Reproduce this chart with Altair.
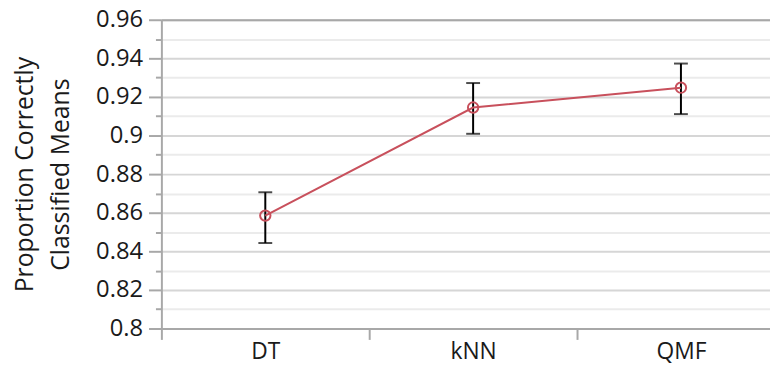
import altair as alt
import pandas as pd

models = ["DT", "kNN", "QMF"]
means = [0.8585, 0.9145, 0.9248]
lows = [0.8443, 0.9009, 0.9111]
highs = [0.8706, 0.9272, 0.9373]

major_ticks = [0.80, 0.82, 0.84, 0.86, 0.88, 0.90, 0.92, 0.94, 0.96]
minor_ticks = [0.81, 0.83, 0.85, 0.87, 0.89, 0.91, 0.93, 0.95]

df = pd.DataFrame({"model": models, "mean": means, "low": lows, "high": highs})

FONT = "Open Sans"
GRAY = "#a8a8a8"
RED = "#c8505c"
TXT = "#1a1a1a"

x_scale = alt.Scale(domain=models, range=[0, 630], paddingInner=0, paddingOuter=0)
y_scale = alt.Scale(domain=[0.8, 0.96], nice=False, zero=False)

x_axis = alt.Axis(
    orient="bottom",
    title=None,
    labelAngle=0,
    labelFont=FONT,
    labelFontSize=23,
    labelColor=TXT,
    labelPadding=1,
    tickBand="extent",
    tickSize=11,
    tickColor=GRAY,
    tickWidth=2,
    domainColor=GRAY,
    domainWidth=2,
    grid=False,
)
x_top_axis = alt.Axis(
    orient="top",
    title=None,
    labels=False,
    ticks=False,
    grid=False,
    domainColor=GRAY,
    domainWidth=2,
)

y_major = alt.Axis(
    orient="left",
    values=major_ticks,
    title=["Proportion Correctly", "Classified Means"],
    titleFont=FONT,
    titleFontSize=25,
    titleFontWeight="normal",
    titleColor=TXT,
    titleLineHeight=37,
    titlePadding=22,
    labelFont=FONT,
    labelFontSize=24,
    labelColor=TXT,
    labelPadding=6,
    labelOverlap=False,
    format=".2~f",
    tickSize=13,
    tickColor=GRAY,
    tickWidth=2,
    domainColor=GRAY,
    domainWidth=2,
    grid=True,
    gridColor="#d6d6d6",
    gridWidth=2,
)
y_minor = alt.Axis(
    orient="left",
    values=minor_ticks,
    title=None,
    labels=False,
    domain=False,
    tickSize=6,
    tickColor=GRAY,
    tickWidth=2,
    grid=True,
    gridColor="#ebebeb",
    gridWidth=2,
)

base = alt.Chart(df)

minor_layer = base.mark_rule(opacity=0).encode(
    x=alt.X("model:N", scale=x_scale, axis=x_top_axis),
    y=alt.Y("low:Q", scale=y_scale, axis=y_minor),
)
bars = base.mark_rule(color="black", strokeWidth=2).encode(
    x=alt.X("model:N", scale=x_scale, axis=x_axis),
    y=alt.Y("low:Q", scale=y_scale, axis=y_major),
    y2="high:Q",
)
cap_low = base.mark_tick(color="black", size=14, thickness=2).encode(
    x=alt.X("model:N", scale=x_scale, axis=None),
    y=alt.Y("low:Q", scale=y_scale, axis=None),
)
cap_high = base.mark_tick(color="black", size=14, thickness=2).encode(
    x=alt.X("model:N", scale=x_scale, axis=None),
    y=alt.Y("high:Q", scale=y_scale, axis=None),
)
line = base.mark_line(color=RED, strokeWidth=2).encode(
    x=alt.X("model:N", scale=x_scale, axis=None),
    y=alt.Y("mean:Q", scale=y_scale, axis=None),
)
points = base.mark_point(color=RED, filled=False, size=110, strokeWidth=2, opacity=1).encode(
    x=alt.X("model:N", scale=x_scale, axis=None),
    y=alt.Y("mean:Q", scale=y_scale, axis=None),
)

chart = (
    alt.layer(minor_layer, bars, cap_low, cap_high, line, points)
    .resolve_axis(x="independent", y="independent")
    .properties(
        width=615,
        height=312,
        autosize=alt.AutoSizeParams(type="none"),
        padding={"left": 155, "top": 10, "right": 0, "bottom": 35},
    )
    .configure_view(stroke=None)
)

chart.save("out.html", embed_options={"renderer": "svg", "actions": False})
